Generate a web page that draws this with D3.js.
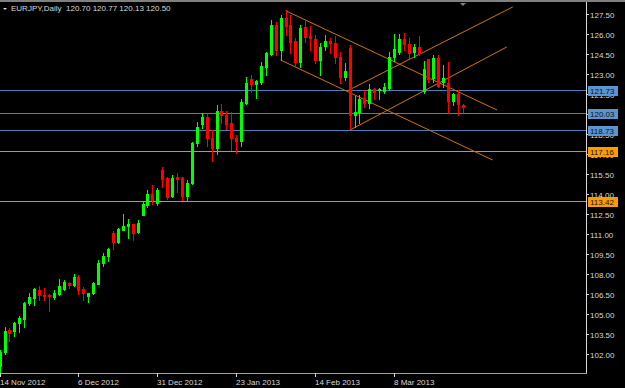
<!DOCTYPE html>
<html><head><meta charset="utf-8">
<script src="https://cdn.jsdelivr.net/npm/d3@7"></script>
<style>html,body{margin:0;padding:0;background:#000;overflow:hidden}</style>
</head><body><svg id="c" width="625" height="388"></svg>
<script>
const dates = ["2012-11-14","2012-11-15","2012-11-16","2012-11-19","2012-11-20","2012-11-21","2012-11-22","2012-11-23","2012-11-26","2012-11-27",
"2012-11-28","2012-11-29","2012-11-30","2012-12-03","2012-12-04","2012-12-05","2012-12-06","2012-12-07","2012-12-10","2012-12-11",
"2012-12-12","2012-12-13","2012-12-14","2012-12-17","2012-12-18","2012-12-19","2012-12-20","2012-12-21","2012-12-24","2012-12-26",
"2012-12-27","2012-12-28","2012-12-31","2013-01-02","2013-01-03","2013-01-04","2013-01-07","2013-01-08","2013-01-09","2013-01-10",
"2013-01-11","2013-01-14","2013-01-15","2013-01-16","2013-01-17","2013-01-18","2013-01-21","2013-01-22","2013-01-23","2013-01-24",
"2013-01-25","2013-01-28","2013-01-29","2013-01-30","2013-01-31","2013-02-01","2013-02-04","2013-02-05","2013-02-06","2013-02-07",
"2013-02-08","2013-02-11","2013-02-12","2013-02-13","2013-02-14","2013-02-15","2013-02-18","2013-02-19","2013-02-20","2013-02-21",
"2013-02-22","2013-02-25","2013-02-26","2013-02-27","2013-02-28","2013-03-01","2013-03-04","2013-03-05","2013-03-06","2013-03-07",
"2013-03-08","2013-03-11","2013-03-12","2013-03-13","2013-03-14","2013-03-15","2013-03-18","2013-03-19","2013-03-20","2013-03-21",
"2013-03-22","2013-03-25","2013-03-26","2013-03-27","2013-03-28"];

const opens = [101.10,102.15,103.80,103.73,104.29,104.63,105.83,106.22,106.80,106.45,
106.40,106.27,106.52,106.90,107.35,107.17,107.78,106.85,106.37,106.55,
107.27,108.80,109.33,111.10,110.40,111.30,111.60,111.75,111.15,112.43,
113.20,114.00,113.36,115.80,115.18,113.85,115.28,115.18,113.87,114.80,
117.85,119.27,119.77,118.20,117.43,120.22,119.93,119.30,118.22,118.00,
120.85,122.65,122.23,122.42,123.55,124.52,126.68,124.80,127.22,126.68,
125.47,123.92,126.55,125.85,125.60,124.05,125.12,125.50,125.35,124.30,
122.80,124.98,119.89,120.13,121.18,120.86,121.88,121.82,121.69,121.93,
124.27,124.63,125.60,125.25,124.63,125.05,121.75,124.10,122.68,124.22,
122.42,122.30,121.00,121.50,120.70];
const highs = [102.30,104.03,103.95,104.40,104.85,105.92,106.58,106.97,107.10,106.95,
106.48,106.78,107.65,107.53,107.42,108.00,107.90,107.05,106.60,107.40,
109.05,109.55,109.97,111.20,111.45,112.52,112.13,111.75,112.02,113.42,
114.30,114.70,114.43,116.00,115.27,115.43,115.60,115.25,115.05,117.92,
119.42,120.10,119.98,118.80,120.67,120.75,120.22,120.15,118.43,121.12,
122.80,122.93,122.55,123.92,124.67,127.05,126.88,127.43,127.80,127.43,
125.70,126.68,127.05,126.60,125.93,125.30,125.92,125.68,125.85,124.67,
123.80,125.17,121.35,121.43,121.80,122.25,121.97,121.95,122.30,124.65,
126.02,126.00,126.05,125.68,125.23,125.85,123.98,124.10,124.43,124.43,
123.68,123.92,121.55,121.80,120.77];
const lows = [100.65,102.00,102.98,103.35,103.65,104.03,105.68,105.68,106.05,106.07,
105.23,106.15,106.43,106.82,106.93,107.10,106.52,106.05,105.92,106.48,
107.23,108.60,108.98,109.88,110.30,111.28,110.70,110.57,111.08,112.43,
113.05,113.27,113.17,114.55,113.63,113.78,114.17,113.55,113.50,114.75,
117.62,118.93,117.60,116.50,117.00,119.33,118.90,117.30,117.10,117.60,
120.73,121.63,121.22,122.23,122.93,124.43,124.43,124.05,125.93,124.57,
123.55,123.55,125.42,124.80,123.80,122.93,124.80,124.55,123.80,122.30,
122.55,118.88,119.03,119.30,120.55,120.43,121.10,121.10,121.55,121.80,
123.97,124.50,124.80,124.20,124.30,124.43,121.60,122.42,122.42,122.05,
122.05,120.05,120.68,119.93,120.13];
const closes = [102.15,103.73,103.58,104.33,104.70,105.83,106.28,106.88,106.43,106.35,
106.33,106.57,107.10,107.38,107.20,107.75,106.80,106.57,106.60,107.35,
108.85,109.37,109.90,110.40,111.37,111.62,111.77,111.05,111.82,113.23,
114.00,113.55,114.30,115.15,113.75,115.20,115.13,113.87,114.85,117.85,
119.02,119.75,118.17,117.45,120.22,119.95,119.27,118.20,118.00,120.88,
122.35,122.23,122.45,123.60,124.60,126.68,124.80,127.22,126.62,125.42,
123.90,126.43,125.80,125.68,124.05,125.05,125.50,125.30,124.25,122.80,
123.25,119.93,120.17,121.12,120.83,121.85,121.67,121.90,122.03,124.25,
124.89,125.64,125.25,124.55,125.05,124.55,123.38,122.60,124.18,122.10,
122.70,121.00,121.50,120.75,120.50];

const priceTicks = [102.00,103.50,105.00,106.50,108.00,109.50,111.00,112.50,114.00,115.50,117.00,118.50,120.00,121.50,123.00,124.50,126.00,127.50];
const dateTickIdx = [0,16,32,48,64,80];
const levelValues = [121.73,120.03,118.73,117.16,113.42];
const levelKinds = ["blue","blue","blue","orange","orange"];
// trend lines: [barIndex1, price1, barIndex2, price2]
const trendLines = [[58,127.75,100.9,120.30],[57,124.05,100.0,116.55],[71.1,118.80,102.9,125.03],[70.5,121.73,104.1,128.03]];
const title = "EURJPY,Daily  120.70 120.77 120.13 120.50";

const W=625,H=388, plotR=586, plotT=3, plotB=373;
const svg=d3.select("#c");
svg.append("rect").attr("width",W).attr("height",H).attr("fill","#000");

const x=d3.scaleLinear().domain([0,dates.length-1]).range([-0.4,463]);
const y=d3.scaleLinear().domain([102,127.5]).range([354,14]);
const parse=d3.timeParse("%Y-%m-%d"), fmt=d3.timeFormat("%-d %b %Y");
const font="'Liberation Sans', Arial, sans-serif";

svg.append("defs").append("clipPath").attr("id","pc").append("rect").attr("x",0).attr("y",plotT).attr("width",plotR).attr("height",plotB-plotT);
const g=svg.append("g").attr("clip-path","url(#pc)");

const colors={blue:"#4a7fb5",orange:"#f08c00"};
const boxColors={blue:"#5a95cf",orange:"#ff9a00"};
// horizontal levels
g.selectAll("line.lv").data(levelValues).enter().append("line")
 .attr("x1",0).attr("x2",plotR).attr("y1",d=>Math.floor(y(d))+0.5).attr("y2",d=>Math.floor(y(d))+0.5)
 .attr("stroke",(d,i)=>colors[levelKinds[i]]).attr("stroke-width",1);

// trend lines
g.selectAll("line.tl").data(trendLines).enter().append("line")
 .attr("x1",d=>x(d[0])).attr("y1",d=>y(d[1])).attr("x2",d=>x(d[2])).attr("y2",d=>y(d[3]))
 .attr("stroke","#d27300").attr("stroke-width",1);

// candles
const idx=d3.range(dates.length);
const cg=g.append("g");
idx.forEach(i=>{
  const up=closes[i]>=opens[i];
  const col=up?"#00ff00":"#ff0000";
  const cx=Math.round(x(i));
  cg.append("line").attr("x1",cx+0.5).attr("x2",cx+0.5).attr("y1",Math.round(y(highs[i]))).attr("y2",Math.round(y(lows[i]))+1).attr("stroke",col);
  const yt=Math.round(y(Math.max(opens[i],closes[i]))), yb=Math.round(y(Math.min(opens[i],closes[i])));
  cg.append("rect").attr("x",cx-1).attr("width",3).attr("y",yt).attr("height",Math.max(1,yb-yt+1)).attr("fill",col);
});

// frame
svg.append("rect").attr("x",0).attr("y",0).attr("width",W).attr("height",2).attr("fill","#808080");
svg.append("line").attr("x1",plotR+0.5).attr("x2",plotR+0.5).attr("y1",2).attr("y2",plotB+1).attr("stroke","#d8d8d8");
svg.append("line").attr("x1",0).attr("x2",plotR+1).attr("y1",plotB+0.5).attr("y2",plotB+0.5).attr("stroke","#a0a0a0");

// price axis
const pa=svg.append("g");
priceTicks.forEach(p=>{
  const yy=Math.round(y(p))+0.5;
  pa.append("line").attr("x1",plotR).attr("x2",plotR+3).attr("y1",yy).attr("y2",yy).attr("stroke","#d8d8d8");
  pa.append("text").attr("x",plotR+4).attr("y",yy+3).attr("font-family",font).attr("font-size","8px").attr("fill","#d8d8d8").text(p.toFixed(2));
});
// level labels
levelValues.forEach((v,i)=>{
  const yy=Math.floor(y(v));
  pa.append("rect").attr("x",plotR+2).attr("y",yy-4).attr("width",30).attr("height",10).attr("fill",boxColors[levelKinds[i]]);
  pa.append("text").attr("x",plotR+4).attr("y",yy+4).attr("font-family",font).attr("font-size","8px").attr("fill","#111").text(v.toFixed(2));
});

// date axis
dateTickIdx.forEach(i=>{
  const xx=Math.round(x(i))+0.5;
  svg.append("line").attr("x1",xx).attr("x2",xx).attr("y1",plotB).attr("y2",plotB+4).attr("stroke","#d8d8d8");
  svg.append("text").attr("x",Math.round(x(i))).attr("y",plotB+12).attr("font-family",font).attr("font-size","8px").attr("fill","#d8d8d8").text(fmt(parse(dates[i])));
});

// title
svg.append("path").attr("d","M3,8 L7,8 L5,10 Z").attr("fill","#d8d8d8");
svg.append("text").attr("x",11).attr("y",11).attr("font-family",font).attr("font-size","8px").attr("fill","#d8d8d8").attr("xml:space","preserve").style("white-space","pre").text(title);
// shift marker
svg.append("path").attr("d","M"+(x(dates.length-1)-3)+",3 L"+(x(dates.length-1)+3)+",3 L"+x(dates.length-1)+",6 Z").attr("fill","#808080");
</script></body></html>
